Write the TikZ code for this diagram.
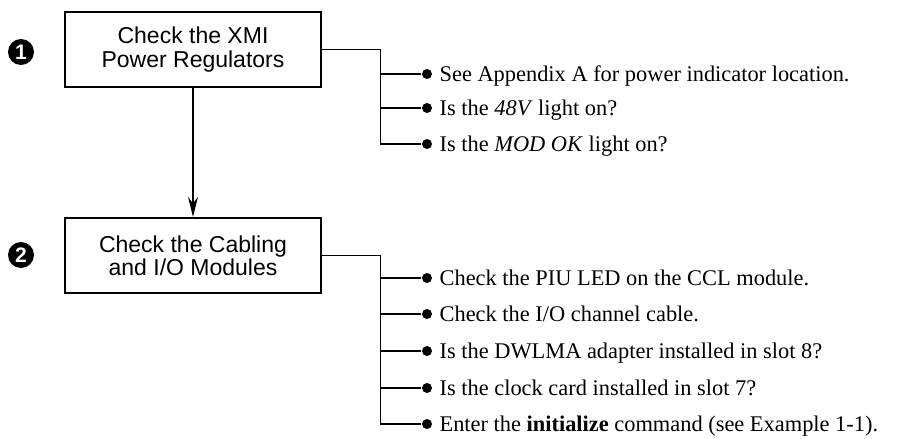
\documentclass[tikz,border=0pt]{standalone}
\usepackage{fontspec}
\setmainfont{Liberation Serif}
\setsansfont{Liberation Sans}
\usetikzlibrary{positioning,arrows.meta}

\begin{document}
\begin{tikzpicture}[x=0.5pt,y=-0.5pt,node distance=103pt,on grid,line width=0.6pt,
  stepbox/.style={draw,rectangle,line width=1.1pt,minimum width=128pt,minimum height=37.5pt,align=center,font=\sffamily\fontsize{11.5}{11.7}\selectfont},
  stepnum/.style={circle,fill=black,text=white,inner sep=0pt,minimum size=13pt,font=\sffamily\bfseries\fontsize{10.5}{10.5}\selectfont},
  bul/.style={circle,fill=black,inner sep=0pt,minimum size=5pt},
  hint/.style={anchor=west,inner sep=0pt,text height=7.4pt,text depth=0pt,font=\fontsize{11.2}{13}\selectfont}]
\useasboundingbox (0,0) rectangle (908,438);
\node[stepbox](q_pwr) at (193,49.5) {Check the XMI\\Power Regulators};
\node[stepbox](q_cab)[below=of q_pwr] {Check the Cabling\\and I/O Modules};
\node[stepnum](n_1) at (21,52) {1};
\node[stepnum](n_2) at (21,255) {2};
\draw[-{Stealth[length=10pt,width=5pt]}] (q_pwr) -- (q_cab);
% power regulator checks
\node[coordinate](j_pwr) at ([xshift=29pt]q_pwr.east) {};
\node[bul](b_1) at (427,74) {};
\node[bul](b_2) at (427,108) {};
\node[bul](b_3) at (427,144) {};
\node[hint](h_1) at ([xshift=6pt]b_1) {See Appendix A for power indicator location.};
\node[hint](h_2) at ([xshift=6pt]b_2) {Is the \textit{48V} light on?};
\node[hint](h_3) at ([xshift=6pt]b_3) {Is the \textit{MOD OK} light on?};
\draw (q_pwr.east) -- (j_pwr) |- (b_3);
\draw (j_pwr |- b_1) -- (b_1);
\draw (j_pwr |- b_2) -- (b_2);
% cabling checks
\node[coordinate](j_cab) at ([xshift=29pt]q_cab.east) {};
\node[bul](c_1) at (427,278) {};
\node[bul](c_2) at (427,314) {};
\node[bul](c_3) at (427,351) {};
\node[bul](c_4) at (427,388) {};
\node[bul](c_5) at (427,424) {};
\node[hint](k_1) at ([xshift=6pt]c_1) {Check the PIU LED on the CCL module.};
\node[hint](k_2) at ([xshift=6pt]c_2) {Check the I/O channel cable.};
\node[hint](k_3) at ([xshift=6pt]c_3) {Is the DWLMA adapter installed in slot 8?};
\node[hint](k_4) at ([xshift=6pt]c_4) {Is the clock card installed in slot 7?};
\node[hint](k_5) at ([xshift=6pt]c_5) {Enter the \textbf{initialize} command (see Example 1-1).};
\draw (q_cab.east) -- (j_cab) |- (c_5);
\draw (j_cab |- c_1) -- (c_1);
\draw (j_cab |- c_2) -- (c_2);
\draw (j_cab |- c_3) -- (c_3);
\draw (j_cab |- c_4) -- (c_4);
\end{tikzpicture}
\end{document}
